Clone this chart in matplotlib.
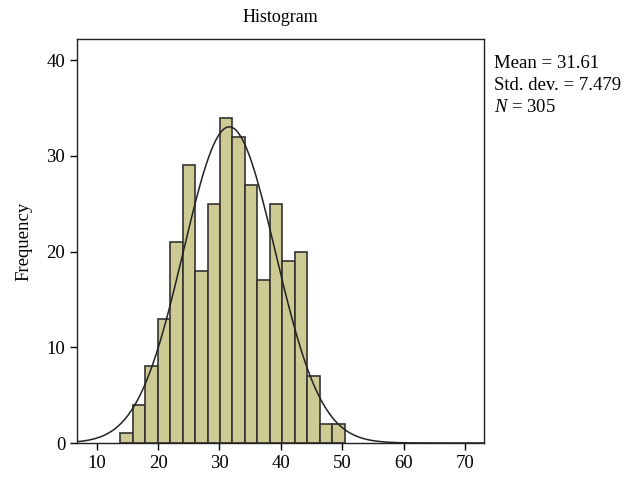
import numpy as np
import matplotlib.pyplot as plt

plt.rcParams['font.family'] = ['Liberation Serif', 'DejaVu Serif']
plt.rcParams['mathtext.fontset'] = 'custom'
plt.rcParams['mathtext.it'] = 'Liberation Serif:italic'
plt.rcParams['mathtext.rm'] = 'Liberation Serif'

# bin counts (bins of width ~2 starting near 14)
counts = [1, 4, 8, 13, 21, 29, 18, 25, 34, 32, 27, 17, 25, 19, 20, 7, 2, 2]
bin_start = 13.85
bin_width = 2.03
mean = 31.61
sd = 7.479
n = 305
xticks = [10, 20, 30, 40, 50, 60, 70]
yticks = [0, 10, 20, 30, 40]

edges = bin_start + bin_width * np.arange(len(counts) + 1)

fig = plt.figure(figsize=(6.32, 4.79), dpi=100)
ax = fig.add_axes([77 / 632, 1 - 443 / 479, (484 - 77) / 632, (443 - 39) / 479])

ax.bar(edges[:-1], counts, width=bin_width, align='edge',
       color='#cdca94', edgecolor='#333333', linewidth=1.2)

xs = np.linspace(6.8, 73.1, 400)
pdf = n * bin_width / (sd * np.sqrt(2 * np.pi)) * np.exp(-0.5 * ((xs - mean) / sd) ** 2)
ax.plot(xs, pdf, color='#222222', linewidth=1.1)

ax.set_xlim(6.8, 73.1)
ax.set_ylim(0, 42.2)
ax.set_xticks(xticks)
ax.set_yticks(yticks)
ax.tick_params(labelsize=13.5, length=5, width=1, direction='out')
for s in ax.spines.values():
    s.set_linewidth(1)
    s.set_color('#222222')

ax.set_ylabel('Frequency', fontsize=13.5, labelpad=10)
ax.set_title('Histogram', fontsize=13, pad=12)

fig.text(494 / 632, 1 - 63 / 479, f'Mean = {mean}', fontsize=13.5, va='center')
fig.text(494 / 632, 1 - 85 / 479, f'Std. dev. = {sd}', fontsize=13.5, va='center')
fig.text(494 / 632, 1 - 107 / 479, f'$N$ = {n}', fontsize=13.5, va='center')

fig.savefig('out.png', dpi=100)
